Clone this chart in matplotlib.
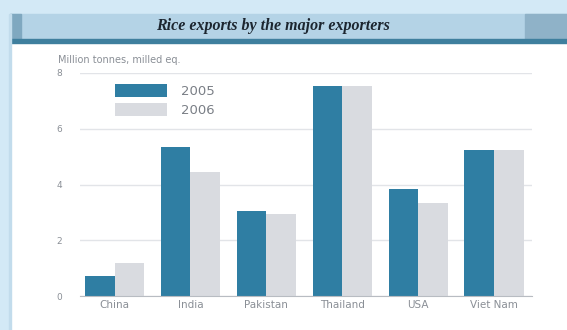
import matplotlib.pyplot as plt
import matplotlib.patches as mpatches
import numpy as np

countries = ['China', 'India', 'Pakistan', 'Thailand', 'USA', 'Viet Nam']
exports_2005 = [0.7, 5.35, 3.05, 7.55, 3.85, 5.25]
exports_2006 = [1.2, 4.45, 2.95, 7.55, 3.35, 5.25]
years = ['2005', '2006']
yticks = [0, 2, 4, 6, 8]

c2005 = '#2f7ea3'
c2006 = '#d9dbe0'
txt = '#8a8f96'

W, H = 567, 330
fig = plt.figure(figsize=(W / 100, H / 100), dpi=100)
fig.patch.set_facecolor('#d3e9f6')


def box(x0, y0, x1, y1, color):
    # pixel coords, y from top
    fig.patches.append(mpatches.Rectangle((x0 / W, 1 - y1 / H), (x1 - x0) / W, (y1 - y0) / H,
                                          transform=fig.transFigure, color=color, zorder=-5))


box(10, 42, W, H, '#ffffff')
box(10, 14, W, 40, '#b4d3e6')
box(10, 14, 21, 40, '#7fa8c0')
box(525, 14, W, 40, '#8fb2c8')
box(10, 39, W, 43, '#3f7f9e')
box(9, 14, 11, H, '#c2dcec')

fig.text(273 / W, 1 - 26 / H, 'Rice exports by the major exporters', ha='center', va='center',
         family='Liberation Serif', style='italic', weight='bold', fontsize=11.5, color='#1c2630')

ax = fig.add_axes([80 / W, 1 - 296 / H, 452 / W, 223 / H])
ax.set_facecolor('white')
x = np.arange(len(countries))
w = 0.39
ax.bar(x - w / 2, exports_2005, w, color=c2005, label=years[0], zorder=2)
ax.bar(x + w / 2, exports_2006, w, color=c2006, label=years[1], zorder=2)

ax.set_xlim(-0.455, 5.5)
ax.set_ylim(0, 8)
ax.set_yticks(yticks)
ax.set_xticks(x)
ax.set_xticklabels(countries)
ax.tick_params(length=0, labelsize=6.5, colors=txt)
ax.tick_params(axis='x', labelsize=7.5, pad=3)
ax.tick_params(axis='y', pad=13)
ax.grid(axis='y', color='#e2e4e8', lw=1, zorder=0)
for s in ['top', 'right', 'left']:
    ax.spines[s].set_visible(False)
ax.spines['bottom'].set_color('#b8bcc2')

fig.text(58 / W, 1 - 60 / H, 'Million tonnes, milled eq.', ha='left', va='center',
         fontsize=7, color=txt)

leg = ax.legend(loc='upper left', bbox_to_anchor=(0.065, 0.975), frameon=False,
                handlelength=4.0, handleheight=1.2, fontsize=9.5, labelspacing=0.35,
                handletextpad=1.0, borderaxespad=0)
for t in leg.get_texts():
    t.set_color('#7a7f86')

fig.savefig('out.png', dpi=100, facecolor=fig.get_facecolor())
